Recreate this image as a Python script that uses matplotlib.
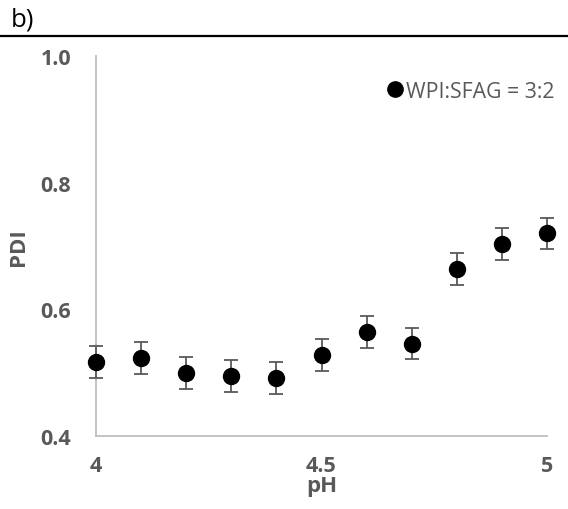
import matplotlib
matplotlib.use("Agg")
import matplotlib.pyplot as plt
from matplotlib.lines import Line2D

ph = [4.0, 4.1, 4.2, 4.3, 4.4, 4.5, 4.6, 4.7, 4.8, 4.9, 5.0]
pdi = [0.517, 0.523, 0.499, 0.495, 0.492, 0.528, 0.564, 0.546, 0.664, 0.703, 0.720]
err = [0.025, 0.025, 0.025, 0.025, 0.025, 0.025, 0.025, 0.025, 0.025, 0.025, 0.025]
xticks = [4, 4.5, 5]
xtick_labels = ["4", "4.5", "5"]
yticks = [0.4, 0.6, 0.8, 1.0]
ytick_labels = ["0.4", "0.6", "0.8", "1.0"]
series_label = "WPI:SFAG = 3:2"

plt.rcParams['font.family'] = ['Open Sans', 'DejaVu Sans']
gray = '#595959'

fig = plt.figure(figsize=(5.68, 5.10), dpi=100)
ax = fig.add_axes([96/568, 1 - 437/510, (547 - 96)/568, (437 - 57)/510])

ax.errorbar(ph, pdi, yerr=err, fmt='o', color='black', markersize=11.5,
            ecolor=gray, elinewidth=1.3, capsize=4.8, capthick=1.3,
            clip_on=False, zorder=3)

ax.set_xlim(4, 5)
ax.set_ylim(0.4, 1.0)
ax.set_xticks(xticks)
ax.set_xticklabels(xtick_labels)
ax.set_yticks(yticks)
ax.set_yticklabels(ytick_labels)
ax.tick_params(axis='both', length=0, labelsize=15.5, labelcolor=gray)
ax.tick_params(axis='x', pad=14)
ax.tick_params(axis='y', pad=18)
for lab in ax.get_xticklabels() + ax.get_yticklabels():
    lab.set_fontweight('bold')

for s in ['top', 'right']:
    ax.spines[s].set_visible(False)
for s in ['left', 'bottom']:
    ax.spines[s].set_color('#BFBFBF')
    ax.spines[s].set_linewidth(1.3)

ax.set_xlabel('pH', fontsize=16, fontweight='bold', color=gray)
ax.set_ylabel('PDI', fontsize=16, fontweight='bold', color=gray)
ax.xaxis.set_label_coords(0.5, -(487 - 437) / 380, transform=ax.transAxes)
ax.yaxis.set_label_coords(-(96 - 18) / 451, (437 - 247) / 380, transform=ax.transAxes)
ax.xaxis.label.set_va('center')
ax.yaxis.label.set_va('center')

handle = Line2D([], [], linestyle='none', marker='o', color='black', markersize=11)
leg = ax.legend([handle], [series_label], loc='center right',
                bbox_to_anchor=(555/568, 1 - 92/510),
                bbox_transform=fig.transFigure, frameon=False,
                handletextpad=0.1, handlelength=0.9, fontsize=15.3,
                borderpad=0, borderaxespad=0)
for t in leg.get_texts():
    t.set_color(gray)

fig.text(11/568, 1 - 20/510, 'b)', fontsize=18.5, color='black', va='center', ha='left')
fig.add_artist(Line2D([0, 1], [1 - 37/510, 1 - 37/510], transform=fig.transFigure,
                      color='black', linewidth=1.6))

fig.savefig('out.png', dpi=100)
